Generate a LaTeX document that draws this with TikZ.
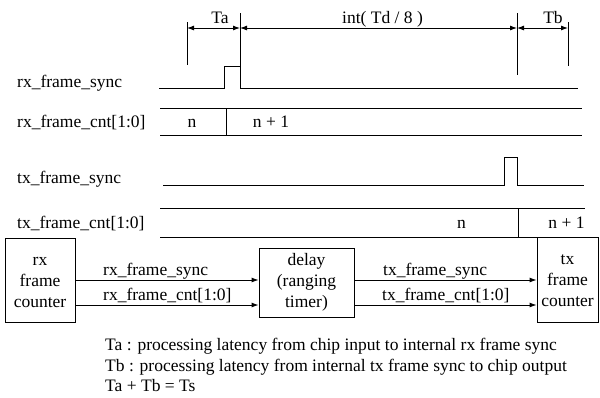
\documentclass[tikz,border=0pt]{standalone}
\usepackage{fontspec}
\setmainfont{Liberation Serif}
\usetikzlibrary{arrows.meta}
\begin{document}
\begin{tikzpicture}[x=1pt,y=-1pt,
  every node/.style={font=\fontsize{17.5}{21}\selectfont, inner sep=0pt},
  wave/.style={line width=0.9pt},
  tickline/.style={line width=0.9pt},
  dimarrow/.style={line width=0.9pt, {Latex[length=7pt,width=5pt]}-{Latex[length=7pt,width=5pt]}},
  sigarrow/.style={line width=0.9pt, -{Latex[length=7pt,width=5pt]}},
  blk/.style={draw, line width=0.9pt, align=center, inner sep=0pt},
  lab/.style={anchor=base west},
  val/.style={anchor=base}]
\useasboundingbox (0,0) rectangle (600,397);

% ---- timing labels (left)
\node[lab] (lrxs) at (17,87) {rx\_frame\_sync};
\node[lab] (lrxc) at (17,127) {rx\_frame\_cnt[1:0]};
\node[lab] (ltxs) at (17,183) {tx\_frame\_sync};
\node[lab] (ltxc) at (17,228) {tx\_frame\_cnt[1:0]};

% ---- waveforms
\draw[wave] (159,88) -- (224,88) -- (224,66) -- (240,66) -- (240,88) -- (578,88);
\draw[wave] (160,108) -- (582,108);
\draw[wave] (160,135) -- (582,135);
\draw[wave] (226,108) -- (226,135);
\node[val] (vn1) at (192,127) {n};
\node[val] (vn2) at (271,127) {n + 1};

\draw[wave] (163,185) -- (504,185) -- (504,157) -- (517,157) -- (517,185) -- (584,185);
\draw[wave] (160,208.5) -- (585,208.5);
\draw[wave] (160,237) -- (585,237);
\draw[wave] (518,208.5) -- (518,237);
\node[val] (vn3) at (461.5,228) {n};
\node[val] (vn4) at (566.5,228) {n + 1};

% ---- dimension ticks and arrows
\draw[tickline] (187,22) -- (187,65);
\draw[tickline] (240,13) -- (240,88);
\draw[tickline] (517,13) -- (517,75);
\draw[tickline] (568,22) -- (568,66);
\coordinate (a1) at (187,28);
\coordinate (a2) at (240,28);
\coordinate (a3) at (517,28);
\coordinate (a4) at (568,28);
\draw[dimarrow] (a1) -- (a2);
\draw[dimarrow] (a2) -- (a3);
\draw[dimarrow] (a3) -- (a4);
\node[val] (ta) at (220,23) {Ta};
\node[val] (td) at (382.5,23) {int( Td / 8 )};
\node[val] (tb) at (553,23) {Tb};

% ---- block diagram
\node[blk, minimum width=70pt, minimum height=84pt] (rxc) at (40,280) {\vphantom{f}rx\\frame\\counter};
\node[blk, minimum width=95pt, minimum height=69pt] (dly) at (306.5,282.5) {delay\\(ranging\\timer)};
\node[blk, minimum width=61pt, minimum height=85pt] (txc) at (567.5,279.5) {\vphantom{f}tx\\frame\\counter};
\coordinate (ys) at (0,280);
\coordinate (yc) at (0,305);
\draw[sigarrow] (rxc.east |- ys) -- (dly.west |- ys);
\draw[sigarrow] (rxc.east |- yc) -- (dly.west |- yc);
\draw[sigarrow] (dly.east |- ys) -- (txc.west |- ys);
\draw[sigarrow] (dly.east |- yc) -- (txc.west |- yc);
\node[lab] (s1) at (103,275) {rx\_frame\_sync};
\node[lab] (s2) at (103,300) {rx\_frame\_cnt[1:0]};
\node[lab] (s3) at (383,275) {tx\_frame\_sync};
\node[lab] (s4) at (382,300) {tx\_frame\_cnt[1:0]};

% ---- notes
\node[lab] (note1) at (105,350) {Ta : processing latency from chip input to internal rx frame sync};
\node[lab] (note2) at (105,371) {Tb : processing latency from internal tx frame sync to chip output};
\node[lab] (note3) at (105,391.5) {Ta + Tb = Ts};
\end{tikzpicture}
\end{document}
